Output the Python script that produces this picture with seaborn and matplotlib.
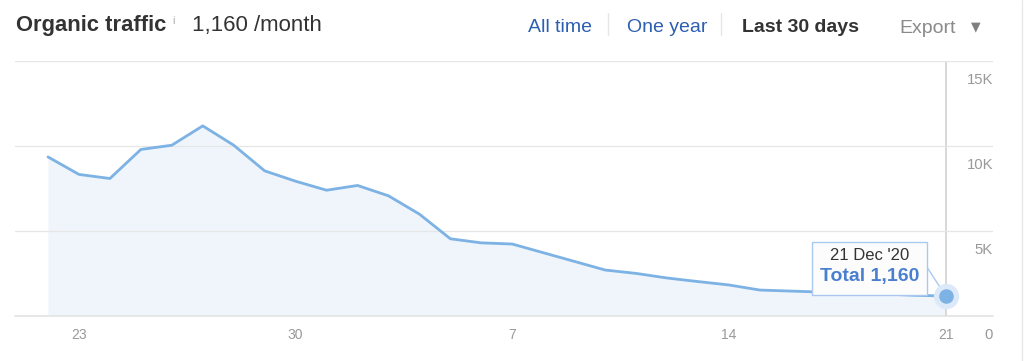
import numpy as np
import pandas as pd
import seaborn as sns
import matplotlib.pyplot as plt
from matplotlib.patches import Rectangle
from matplotlib.lines import Line2D

# Datos (tráfico orgánico diario, últimos 30 días)
fechas = pd.date_range("2020-11-22", "2020-12-21", freq="D")
trafico = [9350, 8320, 8080, 9790, 10040, 11180, 10040, 8530, 7920, 7390,
           7670, 7060, 5980, 4530, 4290, 4220, 3710, 3200, 2690, 2490,
           2220, 2010, 1810, 1510, 1450, 1390, 1340, 1280, 1200, 1160]

ticks_x = pd.to_datetime(["2020-11-23", "2020-11-30", "2020-12-07", "2020-12-14", "2020-12-21"])
etiquetas_x = ["23", "30", "7", "14", "21"]
ticks_y = [0, 5000, 10000, 15000]
etiquetas_y = ["0", "5K", "10K", "15K"]

df = pd.DataFrame({"fecha": fechas, "trafico": trafico})

sns.set_theme(style="white")
plt.rcParams["font.family"] = ["Liberation Sans", "DejaVu Sans"]

W, H = 1024, 361


def fx(px):
    return px / W


def fy(py):
    return 1 - py / H


fig = plt.figure(figsize=(W / 100, H / 100), dpi=100)
ax = fig.add_axes([fx(15), fy(315.7), 978 / W, 254.7 / H])

# Área y línea
azul = "#7db2e4"
ax.fill_between(df["fecha"], df["trafico"], color="#eff5fb", lw=0, zorder=1)
sns.lineplot(data=df, x="fecha", y="trafico", ax=ax, color=azul, lw=2.0, zorder=3)

dia = pd.Timedelta(days=1)
ax.set_xlim(fechas[0] - 1.066 * dia, fechas[-1] + 1.53 * dia)
ax.set_ylim(0, 15000)

# Ejes (la rejilla va por encima del área, por debajo de la línea)
ax.set_axisbelow(False)
ax.set_yticks(ticks_y)
ax.set_yticklabels([])
ax.tick_params(axis="y", length=0)
ax.yaxis.grid(True, color="#e6e6e6", lw=0.9, zorder=2)
ax.xaxis.grid(False)
ax.axhline(0, color="#e3e3e3", lw=1.2, clip_on=False, zorder=2)
ax.set_xticks(ticks_x, etiquetas_x)
ax.tick_params(axis="x", direction="in", length=7, width=0.8, color="#e3e3e3",
               pad=9, labelsize=10, labelcolor="#999999")
ax.set_xlabel("")
ax.set_ylabel("")
sns.despine(ax=ax, left=True, bottom=True, right=True, top=True)

for v, lab in zip(ticks_y, etiquetas_y):
    ax.annotate(lab, xy=(1, v), xycoords=("axes fraction", "data"),
                xytext=(0, -13.7), textcoords="offset points",
                ha="right", va="center", fontsize=10.7, color="#999999")

# Línea vertical y punto final
ax.axvline(fechas[-1], ymin=0, ymax=1, color="#d6d6d6", lw=1.3, zorder=2)
ax.scatter([fechas[-1]], [trafico[-1]], s=330, color="#dce9f8", lw=0, zorder=4)
ax.scatter([fechas[-1]], [trafico[-1]], s=110, color=azul, lw=0, zorder=5)

# Tooltip
ax.annotate("", xy=(fechas[-1], trafico[-1]), xytext=(fx(926.7), fy(266.7)),
            textcoords="figure fraction",
            arrowprops=dict(arrowstyle="-", color="#a9caee", lw=1,
                            shrinkA=0, shrinkB=0))
caja = Rectangle((fx(812.3), fy(295)), (926.7 - 812.3) / W, (295 - 241.7) / H,
                 transform=fig.transFigure, facecolor="#fcfcfc",
                 edgecolor="#a9caee", lw=1, zorder=6)
fig.add_artist(caja)
fig.text(fx(869.5), fy(255), "21 Dec '20", ha="center", va="center",
         fontsize=12, color="#333333", zorder=7)
fig.text(fx(869.5), fy(277), f"Total {trafico[-1]:,}", ha="center", va="center",
         fontsize=14, fontweight="bold", color="#4a7fcf", zorder=7)

# Cabecera
fig.text(fx(16), fy(30.5), "Organic traffic", fontsize=15.8, fontweight="bold",
         color="#333333", va="baseline")
fig.text(fx(172.5), fy(24), "i", fontsize=7.5, color="#aaaaaa", va="baseline")
fig.text(fx(192), fy(30.5), "1,160 /month", fontsize=16, color="#333333", va="baseline")
fig.text(fx(527.5), fy(32.3), "All time", fontsize=14, color="#2d5fb0", va="baseline")
fig.text(fx(627), fy(32.3), "One year", fontsize=14, color="#2d5fb0", va="baseline")
fig.text(fx(742), fy(32.3), "Last 30 days", fontsize=14, fontweight="bold",
         color="#333333", va="baseline")
fig.text(fx(899), fy(32.8), "Export", fontsize=14, color="#8a8a8a", va="baseline")
fig.text(fx(976), fy(26.7), "▼", fontsize=9, color="#808080", ha="center",
         va="center", family="DejaVu Sans")

for xs in [607.7, 721.3]:
    fig.add_artist(Line2D([fx(xs), fx(xs)], [fy(13.3), fy(35)],
                          transform=fig.transFigure, color="#e6e6e6", lw=1))
fig.add_artist(Line2D([fx(1021.5), fx(1021.5)], [0, 1],
                      transform=fig.transFigure, color="#e8e8e8", lw=1))

fig.savefig("out.png", dpi=100)
